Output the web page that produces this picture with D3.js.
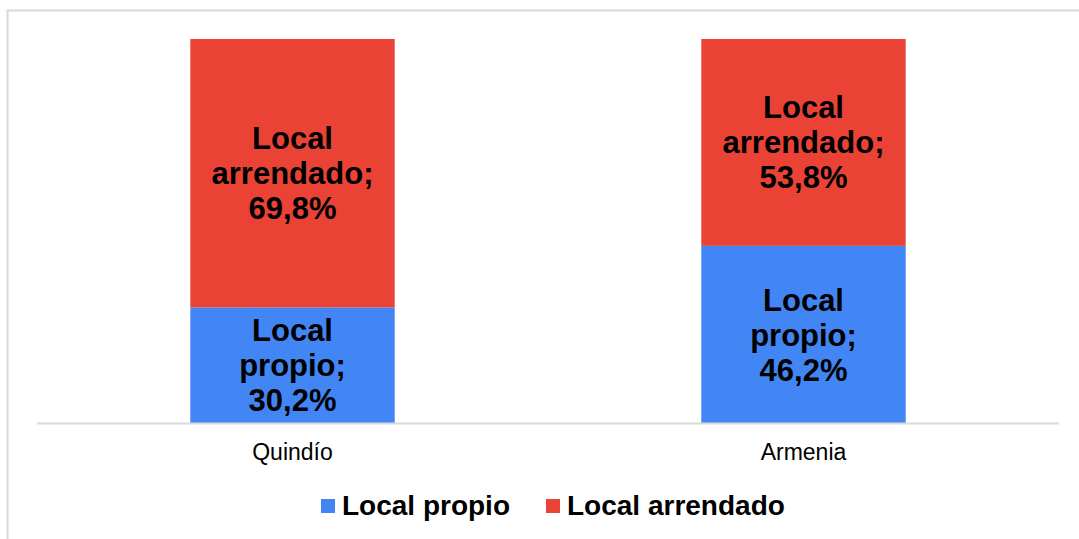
<!DOCTYPE html>
<html>
<head>
<meta charset="utf-8">
<script src="https://cdn.jsdelivr.net/npm/d3@7"></script>
<style>
  body { margin: 0; background: #fff; }
  text { font-family: "Liberation Sans", Arial, sans-serif; }
</style>
</head>
<body>
<div id="chart"></div>
<script>
// datos
var categories = ["Quindío", "Armenia"];
var seriesNames = ["Local propio", "Local arrendado"];
var propio = [30.2, 46.2];
var arrendado = [69.8, 53.8];
var colors = ["#4285F4", "#EA4335"];

var W = 1079, H = 539;
var margin = {top: 39, bottom: 116, left: 37, right: 20};

var svg = d3.select("#chart").append("svg")
    .attr("width", W)
    .attr("height", H);

// marco
svg.append("rect")
    .attr("x", 7.5).attr("y", 10.5)
    .attr("width", W + 20).attr("height", H + 20)
    .attr("fill", "none")
    .attr("stroke", "#d9d9d9")
    .attr("stroke-width", 2);

var x = d3.scaleBand()
    .domain(categories)
    .range([margin.left, 1059])
    .paddingInner(0.6)
    .paddingOuter(0.3);

var y = d3.scaleLinear()
    .domain([0, 100])
    .range([H - margin.bottom + 0.5, margin.top]);

var data = categories.map(function(c, i) {
  return {cat: c, "Local propio": propio[i], "Local arrendado": arrendado[i]};
});

var stacked = d3.stack().keys(seriesNames)(data);

var layers = svg.selectAll(".layer")
    .data(stacked)
  .enter().append("g")
    .attr("fill", function(d, i) { return colors[i]; });

layers.selectAll("rect")
    .data(function(d) { return d; })
  .enter().append("rect")
    .attr("x", function(d) { return x(d.data.cat); })
    .attr("y", function(d) { return y(d[1]); })
    .attr("width", x.bandwidth())
    .attr("height", function(d) { return y(d[0]) - y(d[1]); });

// etiquetas de datos
stacked.forEach(function(s) {
  s.forEach(function(d) {
    var words = s.key.split(" ");
    var lines = [words[0], words[1] + ";", d3.format(".1f")(d[1] - d[0]).replace(".", ",") + "%"];
    var cy = (y(d[0]) + y(d[1])) / 2;
    var t = svg.append("text")
        .attr("text-anchor", "middle")
        .attr("font-size", 31)
        .attr("font-weight", "bold")
        .attr("fill", "#000");
    lines.forEach(function(l, k) {
      t.append("tspan")
        .attr("x", x(d.data.cat) + x.bandwidth() / 2)
        .attr("y", cy + (k - 1) * 35 + 11)
        .text(l);
    });
  });
});

// eje X
var axis = svg.append("g")
    .attr("transform", "translate(0," + (H - margin.bottom) + ")")
    .call(d3.axisBottom(x).tickSize(0).tickPadding(21));
axis.select(".domain")
    .attr("d", "M" + margin.left + ",0.5H1059")
    .attr("stroke", "#d9d9d9")
    .attr("stroke-width", 2);
axis.selectAll("text")
    .attr("font-size", 23)
    .attr("font-family", "Liberation Sans, Arial, sans-serif")
    .attr("fill", "#000");

// leyenda
var legendX = [321, 546];
var legend = svg.selectAll(".legend")
    .data(seriesNames)
  .enter().append("g")
    .attr("transform", function(d, i) { return "translate(" + legendX[i] + ",499)"; });
legend.append("rect")
    .attr("width", 14).attr("height", 14)
    .attr("fill", function(d, i) { return colors[i]; });
legend.append("text")
    .attr("x", 21).attr("y", 16)
    .attr("font-size", 28)
    .attr("font-weight", "bold")
    .attr("fill", "#000")
    .text(function(d) { return d; });
</script>
</body>
</html>
